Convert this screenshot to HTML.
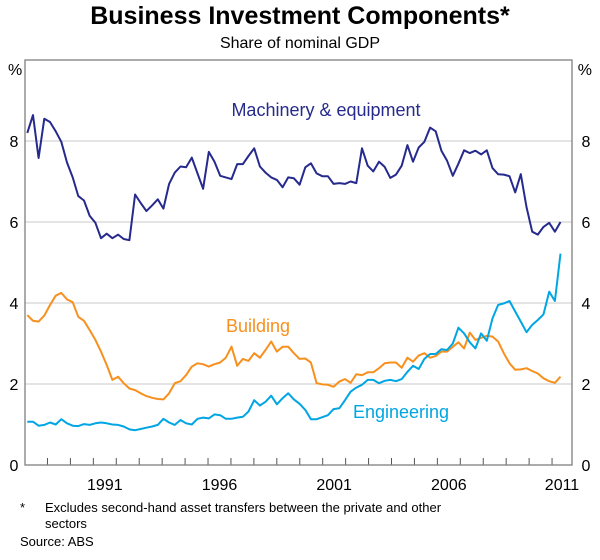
<!DOCTYPE html>
<html><head><meta charset="utf-8"><style>
body{margin:0;background:#fff;font-family:"Liberation Sans",Arial,sans-serif;}
svg text{font-family:"Liberation Sans",Arial,sans-serif;}
</style></head><body>
<svg width="600" height="555" xmlns="http://www.w3.org/2000/svg">
<text x="300" y="24" text-anchor="middle" font-size="25" font-weight="bold">Business Investment Components*</text>
<text x="300" y="48" text-anchor="middle" font-size="16">Share of nominal GDP</text>
<g id="plot"></g>
<text x="8" y="75" font-size="16">%</text>
<text x="592" y="75" font-size="16" text-anchor="end">%</text>
<text x="20" y="512" font-size="13">*</text>
<text x="45" y="512" font-size="13">Excludes second-hand asset transfers between the private and other</text>
<text x="45" y="528" font-size="13">sectors</text>
<text x="20" y="546" font-size="13">Source: ABS</text>
</svg>
<script>
const yTicks=[0,2,4,6,8];
const xLabels=[1991,1996,2001,2006,2011];
const startYear=1988.12, endYear=2011.37;
const machinery=[8.2,8.64,7.58,8.55,8.47,8.24,7.98,7.47,7.1,6.64,6.53,6.15,5.98,5.6,5.71,5.6,5.69,5.58,5.55,6.68,6.47,6.27,6.41,6.56,6.33,6.94,7.22,7.37,7.35,7.59,7.2,6.82,7.73,7.49,7.14,7.1,7.06,7.43,7.43,7.63,7.82,7.37,7.22,7.1,7.04,6.86,7.1,7.08,6.92,7.35,7.45,7.2,7.13,7.13,6.94,6.96,6.94,7.0,6.96,7.82,7.39,7.25,7.49,7.36,7.09,7.17,7.39,7.9,7.49,7.84,7.98,8.33,8.24,7.76,7.51,7.14,7.44,7.77,7.7,7.76,7.67,7.77,7.33,7.18,7.17,7.13,6.73,7.18,6.37,5.76,5.69,5.88,5.98,5.76,6.0];
const building=[3.7,3.56,3.54,3.69,3.95,4.18,4.25,4.09,4.02,3.66,3.56,3.33,3.09,2.8,2.47,2.1,2.18,2.02,1.89,1.85,1.77,1.7,1.66,1.63,1.62,1.77,2.02,2.07,2.22,2.43,2.51,2.49,2.43,2.49,2.53,2.65,2.92,2.45,2.62,2.57,2.76,2.65,2.84,3.05,2.8,2.92,2.92,2.76,2.62,2.63,2.53,2.02,1.99,1.98,1.93,2.06,2.12,2.03,2.24,2.22,2.29,2.29,2.39,2.51,2.53,2.53,2.4,2.65,2.55,2.7,2.76,2.65,2.69,2.8,2.8,2.92,3.03,2.88,3.27,3.09,3.14,3.19,3.17,3.05,2.76,2.51,2.35,2.36,2.39,2.32,2.26,2.14,2.07,2.03,2.18];
const engineering=[1.07,1.07,0.97,0.99,1.05,1.0,1.13,1.03,0.97,0.96,1.01,0.99,1.03,1.05,1.03,1.0,0.99,0.95,0.88,0.86,0.89,0.92,0.95,0.99,1.14,1.05,0.99,1.11,1.03,1.0,1.14,1.17,1.15,1.25,1.23,1.14,1.14,1.17,1.19,1.32,1.6,1.47,1.56,1.71,1.5,1.65,1.77,1.62,1.51,1.36,1.13,1.13,1.18,1.23,1.38,1.4,1.6,1.81,1.91,1.98,2.1,2.1,2.02,2.08,2.1,2.07,2.12,2.3,2.45,2.37,2.62,2.74,2.74,2.86,2.84,3.0,3.39,3.25,3.03,2.88,3.25,3.07,3.62,3.95,3.99,4.05,3.79,3.54,3.28,3.46,3.58,3.72,4.28,4.05,5.22];

const L=25,R=572,T=60,B=465,x0=1988.02,x1=2011.87;
const X=y=>L+(y-x0)/(x1-x0)*(R-L);
const Y=v=>B-v/10*(B-T);
const NS='http://www.w3.org/2000/svg';
const g=document.getElementById('plot');
function mk(t,a){const e=document.createElementNS(NS,t);for(const k in a)e.setAttribute(k,a[k]);g.appendChild(e);return e;}
yTicks.forEach(v=>{
 if(v>0){const gl=mk('line',{x1:L,x2:R,y1:Y(v),y2:Y(v),stroke:'#c8c8c8','stroke-width':1});
 
 }
 const a=mk('text',{x:14,y:Y(v)+6,'font-size':16,'text-anchor':'middle'});a.textContent=v;
 
 
 const b=mk('text',{x:586,y:Y(v)+6,'font-size':16,'text-anchor':'middle'});b.textContent=v;
 
 
});
for(let yr=1989;yr<=2011;yr++){const t=mk('line',{x1:X(yr),x2:X(yr),y1:B,y2:B-7,stroke:'#555','stroke-width':1});
 
 }
xLabels.forEach(yr=>{const t=mk('text',{x:Math.min(X(yr+0.5),562),y:490,'font-size':16,'text-anchor':'middle'});t.textContent=yr;
 
 });
const fr=mk('rect',{x:L,y:T,width:R-L,height:B-T,fill:'none',stroke:'#808080','stroke-width':1.3});


function line(arr,col,name){
 const n=arr.length,step=(endYear-startYear)/(n-1);
 const d=arr.map((v,i)=>(i?'L':'M')+X(startYear+i*step).toFixed(1)+','+Y(v).toFixed(1)).join('');
 const p=mk('path',{d:d,fill:'none',stroke:col,'stroke-width':2,'stroke-linejoin':'round'});
 
 
}
line(building,'#f7901e','building-line');
line(engineering,'#00a6e4','engineering-line');
line(machinery,'#262a8c','machinery-line');
function lab(txt,x,y,col,name){const t=mk('text',{x:x,y:y,'font-size':18,fill:col,'text-anchor':'middle'});t.textContent=txt;
 
 }
lab('Machinery & equipment',326,116,'#262a8c','machinery-label');
lab('Building',258,332,'#f7901e','building-label');
lab('Engineering',401,418,'#00a6e4','engineering-label');
</script>
</body></html>
